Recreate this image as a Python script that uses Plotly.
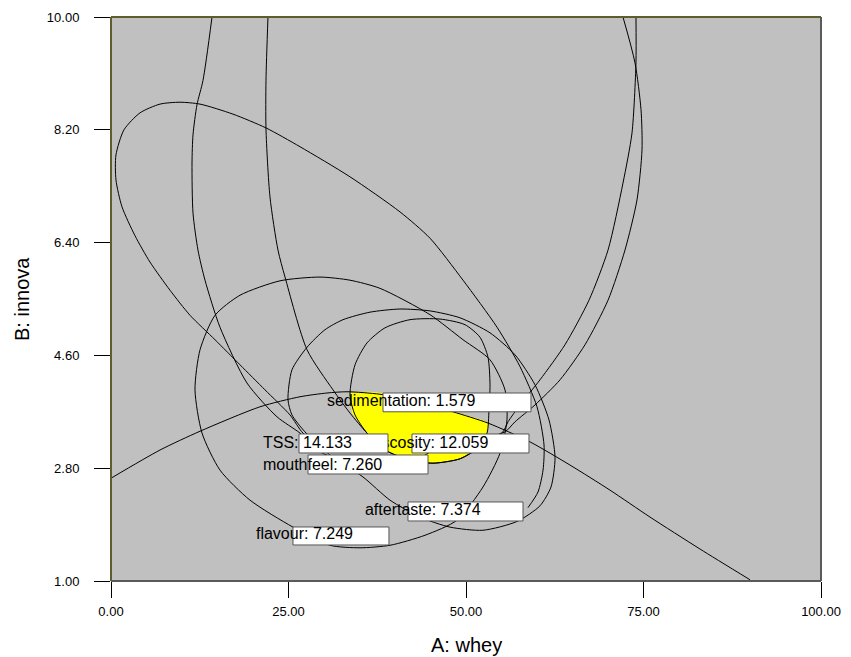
import plotly.graph_objects as go

# ---------------- data (in axis units) ----------------
x_ticks = [0, 25, 50, 75, 100]
y_ticks = [1.0, 2.8, 4.6, 6.4, 8.2, 10.0]

tilt_x = [29.44, 27.04, 25.21, 21.69, 18.17, 14.65, 11.13, 8.31, 5.49, 3.38, 1.55, 0.70, 0.70, 1.83, 4.08,
          6.90, 9.72, 12.54, 17.18, 21.83, 26.62, 33.66, 40.70, 44.93, 49.58, 54.37, 57.61, 60.0, 60.99,
          60.85, 60.14, 58.73]
tilt_y = [3.17, 3.36, 3.65, 4.05, 4.45, 4.85, 5.24, 5.64, 6.09, 6.51, 6.97, 7.40, 7.80, 8.20, 8.47,
          8.61, 8.64, 8.61, 8.45, 8.23, 7.93, 7.45, 6.89, 6.47, 5.80, 5.05, 4.42, 3.78, 3.17,
          2.77, 2.42, 2.17]

tall1_x = [14.23, 12.96, 12.11, 11.55, 11.41, 11.55, 12.25, 13.24, 15.35, 19.15, 23.38, 26.62, 29.44, 35.07,
           42.11, 44.23, 46.34, 50.56, 55.49, 56.90, 59.72, 63.24, 66.76, 70.0, 72.39, 74.08, 74.79,
           74.65, 73.80, 72.11]
tall1_y = [10.0, 8.99, 8.60, 8.12, 7.67, 6.87, 6.28, 5.80, 5.05, 4.16, 3.62, 3.36, 3.06, 2.85,
           2.85, 3.01, 3.14, 3.22, 3.38, 3.54, 3.81, 4.21, 4.77, 5.48, 6.28, 7.08, 7.88,
           8.52, 9.27, 10.0]

tall2_x = [22.11, 21.83, 21.83, 22.39, 23.52, 24.51, 27.61, 31.27, 33.66, 36.06, 38.59, 42.11, 45.35,
           49.15, 51.69, 54.08, 55.21, 55.92, 57.61, 60.42, 63.94, 67.32, 70.0, 72.11, 73.38, 73.94, 73.94]
tall2_y = [10.0, 8.99, 8.21, 7.13, 6.28, 5.85, 4.69, 4.05, 3.68, 3.36, 3.09, 2.93, 2.88,
           2.95, 3.12, 3.31, 3.38, 3.54, 3.81, 4.21, 4.77, 5.48, 6.28, 7.35, 8.15, 9.27, 10.0]

arc_x = [0, 6.90, 12.54, 20.99, 26.62, 30.42, 33.24, 37.89, 43.52, 48.17, 53.10, 59.01, 64.65, 70.28,
         75.92, 82.96, 90.0]
arc_y = [2.64, 3.09, 3.39, 3.78, 3.94, 4.00, 4.02, 3.98, 3.86, 3.70, 3.52, 3.22, 2.85, 2.45,
         2.02, 1.51, 1.02]

e1_x = [29.44, 23.80, 18.17, 14.65, 12.54, 11.83, 12.82, 15.35, 19.58, 25.63, 30.85, 35.07, 39.30, 44.23,
        48.73, 52.39, 54.79, 55.77, 55.49, 53.38, 49.58, 44.93, 37.89, 33.66, 29.44]
e1_y = [5.85, 5.79, 5.56, 5.24, 4.69, 4.05, 3.36, 2.77, 2.29, 1.86, 1.57, 1.53, 1.57, 1.73,
        1.97, 2.50, 3.04, 3.57, 4.05, 4.53, 4.85, 5.25, 5.67, 5.80, 5.85]

e2_x = [24.93, 25.49, 27.61, 30.14, 32.68, 36.48, 40.70, 44.93, 49.15, 53.38, 56.90, 59.72, 61.69, 62.54,
        61.97, 60.42, 57.18, 52.39, 47.75, 43.52, 39.30, 35.49, 30.85, 27.32, 25.49, 24.93]
e2_y = [3.89, 4.37, 4.73, 5.01, 5.17, 5.29, 5.34, 5.31, 5.20, 4.96, 4.61, 4.13, 3.57, 2.97,
        2.50, 2.20, 1.95, 1.81, 1.86, 2.02, 2.29, 2.66, 3.01, 3.38, 3.65, 3.89]

e3_x = [33.66, 34.37, 36.06, 38.59, 42.11, 46.34, 49.86, 51.97, 53.10, 53.38, 53.24, 52.96, 51.69, 49.15,
        45.35, 42.11, 38.59, 36.06, 34.37, 33.66]
e3_y = [3.97, 4.45, 4.80, 5.04, 5.17, 5.18, 5.09, 4.89, 4.57, 4.13, 3.73, 3.36, 3.12, 2.95,
        2.88, 2.93, 3.09, 3.36, 3.65, 3.97]

sweet_x = [33.66, 36.48, 40.70, 44.93, 48.17, 53.10, 52.96, 51.69, 49.15, 45.35, 42.11, 38.59, 36.06, 33.94]
sweet_y = [4.00, 4.02, 3.95, 3.81, 3.70, 3.52, 3.36, 3.12, 2.95, 2.88, 2.93, 3.09, 3.36, 3.68]

# labels: text, text start (x) and centre (y), flag box corners
label_text = ["sedimentation: 1.579", "viscosity: 12.059", "TSS: 14.133",
              "mouthfeel: 7.260", "aftertaste: 7.374", "flavour: 7.249"]
label_x = [30.42, 36.48, 21.41, 21.41, 35.77, 20.42]
label_y = [3.857, 3.187, 3.187, 2.835, 2.117, 1.735]
box_x0 = [38.31, 42.39, 26.48, 27.75, 41.83, 25.63]
box_x1 = [59.15, 58.87, 39.01, 44.65, 58.03, 39.15]
box_y0 = [3.700, 3.043, 3.043, 2.708, 1.958, 1.575]
box_y1 = [4.000, 3.346, 3.346, 3.011, 2.261, 1.862]

fig = go.Figure()

fig.add_trace(go.Scatter(x=sweet_x, y=sweet_y, mode="lines", fill="toself", fillcolor="#ffff00",
                         line=dict(width=0, color="#ffff00", shape="spline", smoothing=0.6),
                         hoverinfo="skip", showlegend=False))

for cx, cy in [(tilt_x, tilt_y), (tall1_x, tall1_y), (tall2_x, tall2_y), (arc_x, arc_y),
               (e1_x, e1_y), (e2_x, e2_y), (e3_x, e3_y)]:
    fig.add_trace(go.Scatter(x=cx, y=cy, mode="lines",
                             line=dict(color="black", width=1, shape="spline", smoothing=0.7),
                             hoverinfo="skip", showlegend=False))

# draw order: viscosity text goes under the TSS flag, as in the reference
for i in range(len(label_text)):
    fig.add_trace(go.Scatter(x=[box_x0[i], box_x1[i], box_x1[i], box_x0[i], box_x0[i]],
                             y=[box_y0[i], box_y0[i], box_y1[i], box_y1[i], box_y0[i]],
                             mode="lines", fill="toself", fillcolor="white",
                             line=dict(color="#555555", width=1), hoverinfo="skip", showlegend=False))
    fig.add_trace(go.Scatter(x=[label_x[i]], y=[label_y[i]], mode="text", text=[label_text[i]],
                             textposition="middle right",
                             textfont=dict(family="Liberation Sans, Arial", size=16, color="black"),
                             hoverinfo="skip", showlegend=False))

frame_olive = "#5c5e2e"
frame_grey = "#5a5a5a"
for (x0, x1, y0, y1, c) in [(0, 1, 1, 1, frame_olive), (0, 0, 0, 1, frame_olive),
                             (1, 1, 0, 1, frame_grey), (0, 1, 0, 0, frame_grey)]:
    fig.add_shape(type="line", xref="paper", yref="paper", x0=x0, x1=x1, y0=y0, y1=y1,
                  line=dict(color=c, width=2), layer="above")

fig.add_annotation(text="A: whey", xref="paper", yref="paper", x=0.5, y=-0.1135,
                   xanchor="center", yanchor="middle", showarrow=False,
                   font=dict(family="Liberation Sans, Arial", size=20, color="black"))
fig.add_annotation(text="B: innova", xref="paper", yref="paper", x=-0.1254, y=0.5,
                   xanchor="center", yanchor="middle", showarrow=False, textangle=-90,
                   font=dict(family="Liberation Sans, Arial", size=20, color="black"))

# the page body adds an 8 px margin, so the figure is 8 px smaller than the window
fig.update_layout(
    width=843, height=649,
    margin=dict(l=103, r=30, t=9, b=76, autoexpand=False),
    paper_bgcolor="white", plot_bgcolor="#c0c0c0",
    font=dict(family="Liberation Sans, Arial", color="black"),
    xaxis=dict(range=[0, 100], tickvals=x_ticks, ticktext=[f"{v:.2f}" for v in x_ticks],
               ticks="outside", ticklen=16, tickcolor="black", tickwidth=1, showgrid=False,
               zeroline=False, showline=False, tickfont=dict(size=13), automargin=False,
               ticklabelstandoff=2),
    yaxis=dict(range=[1, 10], tickvals=y_ticks, ticktext=[f"{v:.2f}" for v in y_ticks],
               ticks="outside", ticklen=16, tickcolor="black", tickwidth=1, showgrid=False,
               zeroline=False, showline=False, tickfont=dict(size=13), ticklabelstandoff=12,
               automargin=False),
)

fig.write_html("out.html")
